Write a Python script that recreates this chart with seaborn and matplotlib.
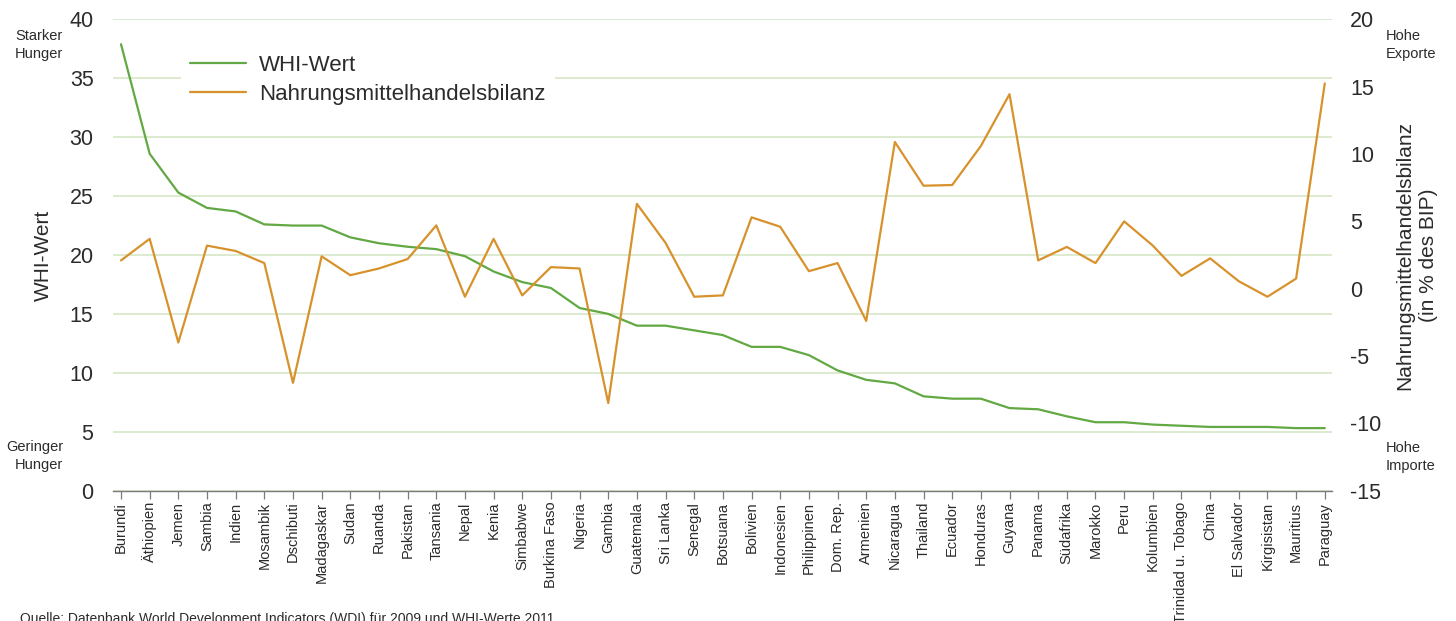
import numpy as np
import pandas as pd
import matplotlib
matplotlib.use("Agg")
import matplotlib.pyplot as plt
import seaborn as sns

countries = ["Burundi", "Äthiopien", "Jemen", "Sambia", "Indien", "Mosambik", "Dschibuti",
             "Madagaskar", "Sudan", "Ruanda", "Pakistan", "Tansania", "Nepal", "Kenia",
             "Simbabwe", "Burkina Faso", "Nigeria", "Gambia", "Guatemala", "Sri Lanka",
             "Senegal", "Botsuana", "Bolivien", "Indonesien", "Philippinen", "Dom. Rep.",
             "Armenien", "Nicaragua", "Thailand", "Ecuador", "Honduras", "Guyana", "Panama",
             "Südafrika", "Marokko", "Peru", "Kolumbien", "Trinidad u. Tobago", "China",
             "El Salvador", "Kirgisistan", "Mauritius", "Paraguay"]

whi_values = [37.9, 28.6, 25.3, 24.0, 23.7, 22.6, 22.5, 22.5, 21.5, 21.0, 20.7, 20.5, 19.9,
              18.6, 17.7, 17.2, 15.5, 15.0, 14.0, 14.0, 13.6, 13.2, 12.2, 12.2, 11.5, 10.2,
              9.4, 9.1, 8.0, 7.8, 7.8, 7.0, 6.9, 6.3, 5.8, 5.8, 5.6, 5.5, 5.4, 5.4, 5.4,
              5.3, 5.3]

trade_balance = [2.1, 3.7, -4.0, 3.2, 2.8, 1.9, -7.0, 2.4, 1.0, 1.5, 2.2, 4.7, -0.6, 3.7,
                 -0.5, 1.6, 1.5, -8.5, 6.3, 3.4, -0.6, -0.5, 5.3, 4.6, 1.3, 1.9, -2.4, 10.9,
                 7.65, 7.7, 10.6, 14.45, 2.1, 3.1, 1.9, 5.0, 3.2, 0.95, 2.25, 0.55, -0.6,
                 0.75, 15.25]

left_ticks = [0, 5, 10, 15, 20, 25, 30, 35, 40]
right_ticks = [-15, -10, -5, 0, 5, 10, 15, 20]

green = "#62a843"
orange = "#d8922c"
grid_col = "#d6e7c6"
text_col = "#2b2b2b"

sns.set_theme(style="white")
plt.rcParams['font.family'] = ['Liberation Sans', 'DejaVu Sans']
plt.rcParams['axes.unicode_minus'] = False

df = pd.DataFrame({"pos": np.arange(len(countries)), "country": countries,
                   "whi": whi_values, "trade": trade_balance})

fig = plt.figure(figsize=(14.56, 6.21), dpi=100)
ax = fig.add_axes([0.0776, 0.2101, 0.8372, 0.7585])
ax2 = ax.twinx()

sns.lineplot(data=df, x="pos", y="whi", ax=ax, color=green, lw=1.6, label="WHI-Wert", legend=False)
sns.lineplot(data=df, x="pos", y="trade", ax=ax2, color=orange, lw=1.6,
             label="Nahrungsmittelhandelsbilanz", legend=False)

ax.set_xlim(-0.28, 42.25)
ax.set_ylim(0, 40)
ax2.set_ylim(-15, 20)
ax.set_yticks(left_ticks)
ax2.set_yticks(right_ticks)
ax.set_xticks(df["pos"])
ax.set_xticklabels(countries, rotation=90, fontsize=10.5, color=text_col)

ax.yaxis.grid(True, color=grid_col, lw=1.2)
ax.xaxis.grid(False)
ax2.grid(False)

for a in (ax, ax2):
    for s in ("left", "right", "top"):
        a.spines[s].set_visible(False)
ax2.spines["bottom"].set_visible(False)
ax.spines["bottom"].set_color("#7a7a7a")
ax.spines["bottom"].set_linewidth(1.0)

ax.tick_params(axis="x", bottom=True, length=6, width=0.9, color="#7a7a7a", pad=2)
ax.tick_params(axis="y", left=False, labelsize=15.5, labelcolor=text_col, pad=8)
ax2.tick_params(axis="y", right=False, labelsize=15.5, labelcolor=text_col, pad=7)

ax.set_xlabel("")
ax.set_ylabel("WHI-Wert", fontsize=15, color=text_col, labelpad=12)
ax2.set_ylabel("Nahrungsmittelhandelsbilanz\n(in % des BIP)", fontsize=15, color=text_col,
               labelpad=10, linespacing=1.3)

handles = ax.get_lines()[:1] + ax2.get_lines()[:1]
leg = ax2.legend(handles, ["WHI-Wert", "Nahrungsmittelhandelsbilanz"], loc="center left",
                 bbox_to_anchor=(0.056, 0.872), borderaxespad=0, fontsize=16,
                 frameon=True, facecolor="white", edgecolor="white", framealpha=1,
                 handlelength=2.5, handletextpad=0.6, labelspacing=0.35, fancybox=False)
for t in leg.get_texts():
    t.set_color(text_col)

fig.text(63 / 1456, 1 - 45 / 621, "Starker\nHunger", ha="right", va="center", fontsize=10.5,
         color=text_col, linespacing=1.35)
fig.text(63 / 1456, 1 - 456 / 621, "Geringer\nHunger", ha="right", va="center", fontsize=10.5,
         color=text_col, linespacing=1.35)
fig.text(1386 / 1456, 1 - 45 / 621, "Hohe\nExporte", ha="left", va="center", fontsize=10.5,
         color=text_col, linespacing=1.35)
fig.text(1386 / 1456, 1 - 457 / 621, "Hohe\nImporte", ha="left", va="center", fontsize=10.5,
         color=text_col, linespacing=1.35)
fig.text(20 / 1456, -0.004, "Quelle: Datenbank World Development Indicators (WDI) für 2009 und WHI-Werte 2011",
         ha="left", va="baseline", fontsize=10, color=text_col)

fig.savefig("out.png", dpi=100)
